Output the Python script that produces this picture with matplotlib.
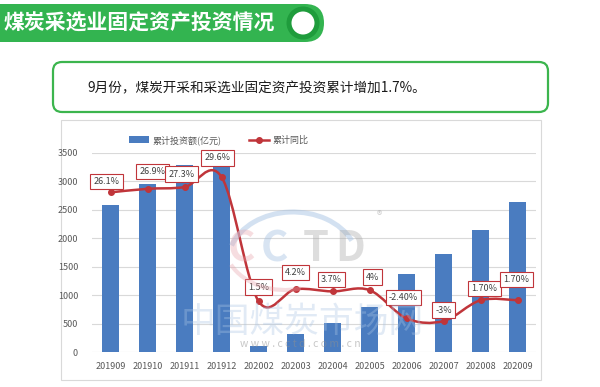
import numpy as np
import matplotlib
matplotlib.use("Agg")
import matplotlib.pyplot as plt
from matplotlib.patches import FancyBboxPatch, Circle, Rectangle, Arc
from matplotlib.lines import Line2D
from matplotlib.path import Path
from matplotlib.patches import PathPatch

plt.rcParams['font.family'] = ['Noto Sans CJK SC', 'DejaVu Sans']

# ---------------- data ----------------
categories = ["201909", "201910", "201911", "201912", "202002", "202003",
              "202004", "202005", "202006", "202007", "202008", "202009"]
investment = [2580, 2950, 3290, 3260, 110, 310, 505, 790, 1365, 1730, 2145, 2640]
yoy = [26.1, 26.9, 27.3, 29.6, 1.5, 4.2, 3.7, 4.0, -2.4, -3.0, 1.7, 1.7]
yoy_labels = ["26.1%", "26.9%", "27.3%", "29.6%", "1.5%", "4.2%", "3.7%", "4%",
              "-2.40%", "-3%", "1.70%", "1.70%"]
y_ticks = [0, 500, 1000, 1500, 2000, 2500, 3000, 3500]
title = "煤炭采选业固定资产投资情况"
subtitle = "9月份，煤炭开采和采选业固定资产投资累计增加1.7%。"
legend_bar = "累计投资额(亿元)"
legend_line = "累计同比"

# label offsets (pixels, relative to the marker)
label_offsets = [(-4, 11), (5, 17), (-3, 13), (-4, 19), (0, 14), (0, 17),
                 (-1, 12), (3, 13), (-3, 21), (0, 11), (4, 12), (-1, 21)]

W, H = 600, 387
fig = plt.figure(figsize=(W / 100, H / 100), dpi=100)
fig.patch.set_facecolor("white")

# background pixel axes
bg = fig.add_axes([0, 0, 1, 1], zorder=0)
bg.set_xlim(0, W)
bg.set_ylim(H, 0)
bg.axis("off")

green = "#33b450"
dgreen = "#1f9c3c"
bg.add_patch(FancyBboxPatch((-30, 4), 354, 38, boxstyle="round,pad=0,rounding_size=19",
                            facecolor=green, edgecolor="none"))
bg.add_patch(Circle((303, 23), 16.5, facecolor=dgreen, edgecolor="none"))
bg.add_patch(Circle((303, 23), 11.5, facecolor="white", edgecolor="none"))
bg.text(4, 23, title, color="white", fontsize=15, fontweight="bold",
        ha="left", va="center")

bg.add_patch(FancyBboxPatch((53, 62), 495, 50, boxstyle="round,pad=0,rounding_size=9",
                            facecolor="white", edgecolor="#3cb54e", linewidth=1.6))
bg.text(87, 88, subtitle, color="#1a1a1a", fontsize=9.8, ha="left", va="center")

bg.add_patch(Rectangle((61, 120), 480, 260, facecolor="white", edgecolor="#d9d9d9",
                       linewidth=0.8))

# main chart axes
left, right, top, bottom = 92, 536, 153, 352
ax = fig.add_axes([left / W, 1 - bottom / H, (right - left) / W, (bottom - top) / H], zorder=1)
ax.set_facecolor("none")
x = np.arange(len(categories))
ax.bar(x, investment, width=0.48, color="#4a7cc0", zorder=2)
ax.set_xlim(-0.5, len(categories) - 0.5)
ax.set_ylim(0, 3500)
ax.set_yticks(y_ticks)
ax.set_yticklabels([str(v) for v in y_ticks])
ax.set_xticks(x)
ax.set_xticklabels(categories)
ax.tick_params(axis="both", length=0, labelsize=6.5, labelcolor="#595959")
ax.tick_params(axis="y", pad=10)
ax.tick_params(axis="x", pad=7)
ax.grid(axis="y", color="#d9d9d9", linewidth=0.8, zorder=0)
ax.set_axisbelow(True)
for s in ax.spines.values():
    s.set_visible(False)

# secondary (hidden) axis for the line
ax2 = ax.twinx()
ax2.set_zorder(2)
ax2.set_ylim(-10, 35)
ax2.set_xlim(ax.get_xlim())
ax2.axis("off")

# smoothed line (Catmull-Rom as Bezier, like Excel smoothing)
pts = np.column_stack([x, yoy]).astype(float)
verts = [tuple(pts[0])]
codes = [Path.MOVETO]
n = len(pts)
for i in range(n - 1):
    p0 = pts[i - 1] if i > 0 else pts[i]
    p1 = pts[i]
    p2 = pts[i + 1]
    p3 = pts[i + 2] if i + 2 < n else pts[i + 1]
    c1 = p1 + (p2 - p0) / 6.0
    c2 = p2 - (p3 - p1) / 6.0
    verts += [tuple(c1), tuple(c2), tuple(p2)]
    codes += [Path.CURVE4] * 3
red = "#c0353a"
ax2.add_patch(PathPatch(Path(verts, codes), facecolor="none", edgecolor=red,
                        linewidth=1.8, zorder=3))
ax2.plot(x, yoy, linestyle="none", marker="o", markersize=4, color=red, zorder=4)

for xi, yi, lab, (dx, dy) in zip(x, yoy, yoy_labels, label_offsets):
    ax2.annotate(lab, (xi, yi), xytext=(dx, dy), textcoords="offset pixels",
                 ha="center", va="center", fontsize=6.5, color="#404040", zorder=5,
                 bbox=dict(boxstyle="square,pad=0.35", facecolor="white",
                           edgecolor="#c0353a", linewidth=0.8))

# legend
handles = [Rectangle((0, 0), 1, 1, facecolor="#4a7cc0"),
           Line2D([], [], color=red, linewidth=1.8, marker="o", markersize=4)]
leg = fig.legend(handles, [legend_bar, legend_line], loc="center",
                 bbox_to_anchor=(219 / W, 1 - 140 / H), ncol=2, frameon=False,
                 fontsize=6.5, handlelength=2.2, handleheight=0.8,
                 columnspacing=3.0, handletextpad=0.4)
for t in leg.get_texts():
    t.set_color("#595959")

# watermark (foreground, faint)
fg = fig.add_axes([0, 0, 1, 1], zorder=10)
fg.set_xlim(0, W)
fg.set_ylim(H, 0)
fg.axis("off")
fg.add_patch(Arc((293, 262), 130, 100, theta1=195, theta2=340, color="#a9c4e4",
                 linewidth=3.6, alpha=0.5))
fg.add_patch(Arc((285, 245), 120, 90, theta1=70, theta2=160, color="#e8a0a8",
                 linewidth=3.0, alpha=0.35))
wm_style = dict(fontsize=30, ha="center", va="center", fontweight="bold")
fg.text(241, 249, "C", color="#e8a0a8", alpha=0.35, **wm_style)
fg.text(274, 249, "C", color="#9fbde0", alpha=0.4, **wm_style)
fg.text(316, 249, "T", color="#a0a0a0", alpha=0.35, **wm_style)
fg.text(350, 249, "D", color="#a0a0a0", alpha=0.35, **wm_style)
fg.text(379, 216, "®", fontsize=8, color="#a0a0a0", alpha=0.5, ha="center", va="center")
fg.text(302, 322, "中国煤炭市场网", fontsize=25, color="#a9c4e4", alpha=0.35,
        ha="center", va="center")
fg.text(300, 344, "w w w . c c t d . c o m . c n", fontsize=7.5, color="#909090",
        alpha=0.5, ha="center", va="center")

fig.savefig("out.png", dpi=100, facecolor="white")
